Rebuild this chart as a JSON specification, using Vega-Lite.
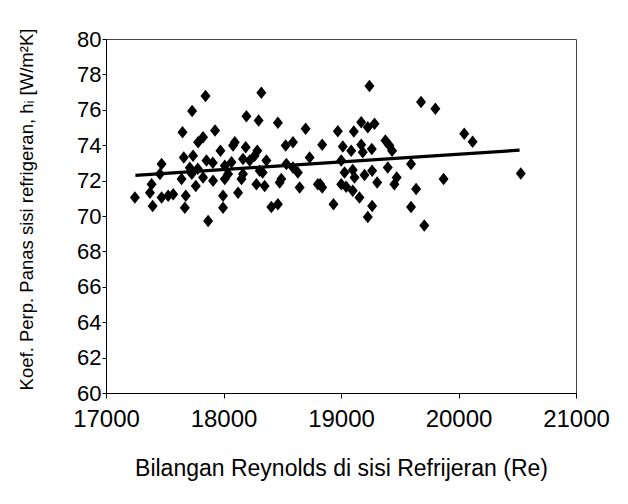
{
  "$schema": "https://vega.github.io/schema/vega-lite/v6.json",
  "width": 470,
  "height": 354,
  "autosize": "none",
  "padding": {"left": 106, "top": 39, "right": 52, "bottom": 111},
  "background": "white",
  "config": {
    "font": "Liberation Sans",
    "view": {"stroke": "#444", "strokeWidth": 1},
    "axis": {"grid": false, "domainColor": "black", "tickColor": "black", "labelColor": "black", "titleColor": "black", "labelFont": "Liberation Sans", "titleFont": "Liberation Sans", "titleFontWeight": "normal", "labelOverlap": false, "labelFlush": false}
  },
  "datasets": {
    "points": [
      {"Re": 17847, "h": 76.78}, {"Re": 17733, "h": 75.93}, {"Re": 17651, "h": 74.73}, {"Re": 17928, "h": 74.83},
      {"Re": 17784, "h": 74.16}, {"Re": 17826, "h": 74.45}, {"Re": 17473, "h": 72.94}, {"Re": 17662, "h": 73.31},
      {"Re": 17741, "h": 73.41}, {"Re": 17855, "h": 73.13}, {"Re": 17713, "h": 72.73}, {"Re": 17781, "h": 72.67},
      {"Re": 17730, "h": 72.39}, {"Re": 17459, "h": 72.37}, {"Re": 17643, "h": 72.09}, {"Re": 17826, "h": 72.18},
      {"Re": 17911, "h": 71.99}, {"Re": 17388, "h": 71.8}, {"Re": 17764, "h": 71.7}, {"Re": 17374, "h": 71.32},
      {"Re": 17246, "h": 71.04}, {"Re": 17473, "h": 71.04}, {"Re": 17529, "h": 71.14}, {"Re": 17572, "h": 71.23},
      {"Re": 17679, "h": 71.14}, {"Re": 17671, "h": 70.47}, {"Re": 17397, "h": 70.57}, {"Re": 17869, "h": 69.72},
      {"Re": 18322, "h": 76.97}, {"Re": 18195, "h": 75.64}, {"Re": 18299, "h": 75.4}, {"Re": 18463, "h": 75.27},
      {"Re": 18699, "h": 74.93}, {"Re": 18081, "h": 73.98}, {"Re": 18096, "h": 74.16}, {"Re": 17974, "h": 73.69},
      {"Re": 18189, "h": 73.88}, {"Re": 18288, "h": 73.69}, {"Re": 18265, "h": 73.41}, {"Re": 18529, "h": 73.98},
      {"Re": 18591, "h": 74.16}, {"Re": 18733, "h": 73.31}, {"Re": 18166, "h": 73.22}, {"Re": 18223, "h": 73.13},
      {"Re": 18365, "h": 73.13}, {"Re": 17909, "h": 73.01}, {"Re": 18011, "h": 72.84}, {"Re": 18068, "h": 73.03},
      {"Re": 18308, "h": 72.56}, {"Re": 18333, "h": 72.46}, {"Re": 18535, "h": 72.94}, {"Re": 18591, "h": 72.74},
      {"Re": 18633, "h": 72.46}, {"Re": 18011, "h": 72.09}, {"Re": 18039, "h": 72.37}, {"Re": 18153, "h": 72.09},
      {"Re": 18166, "h": 72.37}, {"Re": 18280, "h": 71.8}, {"Re": 18350, "h": 71.7}, {"Re": 18492, "h": 72.09},
      {"Re": 18478, "h": 71.89}, {"Re": 18648, "h": 71.61}, {"Re": 18803, "h": 71.8}, {"Re": 17996, "h": 71.14},
      {"Re": 18124, "h": 71.32}, {"Re": 17996, "h": 70.47}, {"Re": 18407, "h": 70.51}, {"Re": 18463, "h": 70.66},
      {"Re": 19242, "h": 77.35}, {"Re": 19681, "h": 76.44}, {"Re": 19803, "h": 76.06}, {"Re": 19172, "h": 75.3},
      {"Re": 19228, "h": 75.02}, {"Re": 19285, "h": 75.21}, {"Re": 18973, "h": 74.79}, {"Re": 19109, "h": 74.77},
      {"Re": 18840, "h": 74.02}, {"Re": 19015, "h": 73.92}, {"Re": 19087, "h": 73.69}, {"Re": 19172, "h": 74.02},
      {"Re": 19185, "h": 73.6}, {"Re": 19262, "h": 73.79}, {"Re": 19378, "h": 74.26}, {"Re": 19412, "h": 73.98},
      {"Re": 19435, "h": 73.69}, {"Re": 19002, "h": 73.13}, {"Re": 19398, "h": 72.74}, {"Re": 19596, "h": 72.94},
      {"Re": 19030, "h": 72.46}, {"Re": 19100, "h": 72.6}, {"Re": 19115, "h": 72.18}, {"Re": 19200, "h": 72.31},
      {"Re": 19265, "h": 72.56}, {"Re": 18823, "h": 71.8}, {"Re": 18840, "h": 71.61}, {"Re": 19002, "h": 71.8},
      {"Re": 19044, "h": 71.65}, {"Re": 19308, "h": 71.89}, {"Re": 19454, "h": 71.8}, {"Re": 19474, "h": 72.18},
      {"Re": 19100, "h": 71.42}, {"Re": 19157, "h": 71.04}, {"Re": 19639, "h": 71.52}, {"Re": 18936, "h": 70.66},
      {"Re": 19265, "h": 70.57}, {"Re": 19596, "h": 70.51}, {"Re": 19228, "h": 69.94}, {"Re": 20049, "h": 74.64},
      {"Re": 20120, "h": 74.2}, {"Re": 19873, "h": 72.09}, {"Re": 20530, "h": 72.4}, {"Re": 19709, "h": 69.47}
    ],
    "trend": [
      {"Re": 17250, "h": 72.3},
      {"Re": 20520, "h": 73.72}
    ]
  },
  "encoding": {
    "x": {
      "field": "Re", "type": "quantitative",
      "scale": {"domain": [17000, 21000], "nice": false, "zero": false},
      "axis": {
        "values": [17000, 18000, 19000, 20000, 21000], "format": "d",
        "labelFontSize": 24, "tickSize": 5, "labelPadding": 9, "labelOverlap": false, "labelFlush": false,
        "title": "Bilangan Reynolds di sisi Refrijeran (Re)", "titleFontSize": 23,
        "titleY": 75, "titleBaseline": "middle"
      }
    },
    "y": {
      "field": "h", "type": "quantitative",
      "scale": {"domain": [60, 80], "nice": false, "zero": false},
      "axis": {
        "values": [60, 62, 64, 66, 68, 70, 72, 74, 76, 78, 80], "format": "d",
        "labelFontSize": 22, "tickSize": 4, "labelPadding": 1, "labelOverlap": false, "labelFlush": false,
        "title": "Koef. Perp. Panas sisi refrigeran, hᵢ [W/m²K]", "titleFontSize": 18.5,
        "titleX": -80, "titleY": 170, "titleAngle": -90, "titleAlign": "center", "titleBaseline": "middle"
      }
    }
  },
  "layer": [
    {
      "data": {"name": "trend"},
      "mark": {"type": "line", "color": "black", "strokeWidth": 3.2}
    },
    {
      "data": {"name": "points"},
      "mark": {"type": "point", "shape": "M0,-1.25L1,0L0,1.25L-1,0Z", "filled": true, "color": "black", "opacity": 1, "size": 100}
    }
  ]
}
